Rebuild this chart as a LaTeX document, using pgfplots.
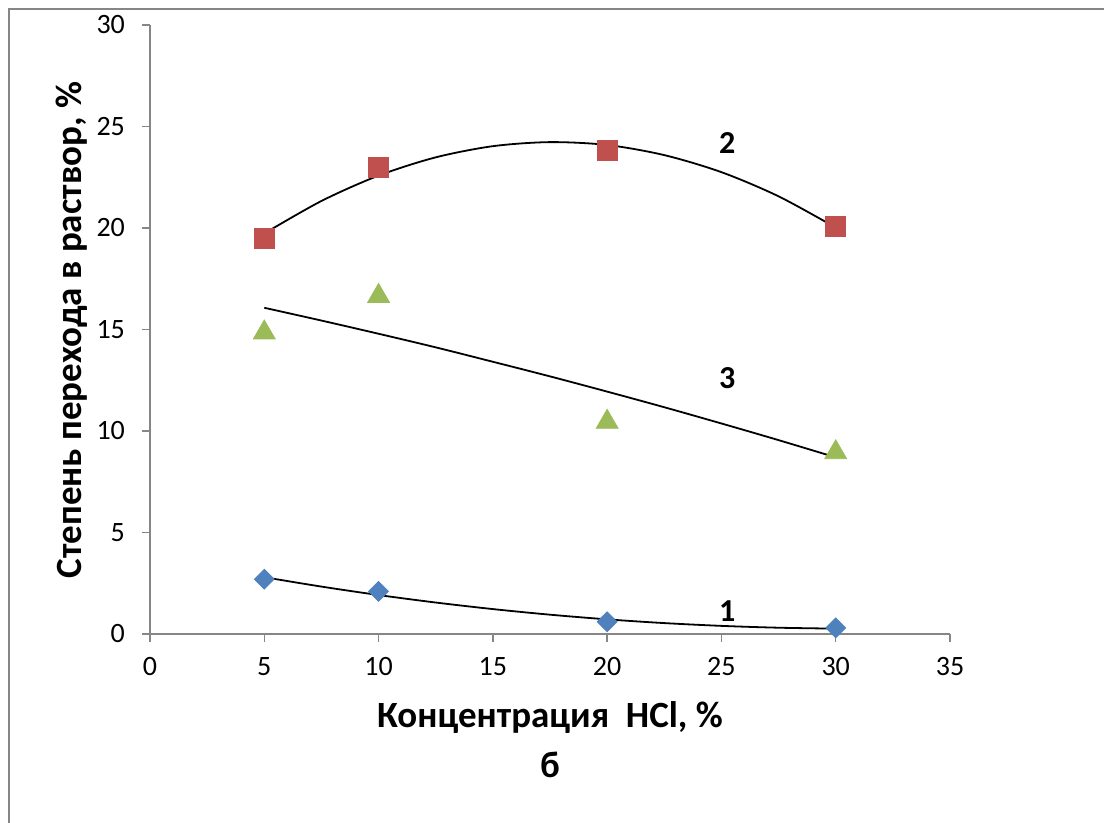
\documentclass[border=0pt]{standalone}
\usepackage{pgfplots}
\pgfplotsset{compat=1.18}
\usepackage{fontspec}
\setmainfont{Carlito}
\definecolor{axgrey}{HTML}{868686}
\definecolor{sblue}{HTML}{4F81BD}
\definecolor{sred}{HTML}{C0504D}
\definecolor{sgreen}{HTML}{9BBB59}
\begin{document}
\begin{tikzpicture}[x=0.5pt,y=0.5pt]
\useasboundingbox (-150,-189) rectangle (954,634);
\draw[axgrey, line width=0.75pt] (-141,-189) -- (-141,625) -- (954,625);
\begin{axis}[
  at={(0,0)}, anchor=south west,
  scale only axis,
  width=400pt, height=304.5pt,
  xmin=0, xmax=35, ymin=0, ymax=30,
  xtick={0,5,...,35}, ytick={0,5,...,30},
  axis lines=left,
  axis line style={axgrey, line width=0.75pt, -},
  tick style={axgrey, line width=0.75pt},
  tick align=outside,
  major tick length=4pt,
  /pgf/number format/assume math mode=true,
  tick label style={font=\fontsize{14}{16}\selectfont, black},
  xticklabel style={yshift=-4pt},
  yticklabel style={xshift=-5pt},
  clip=false,
]
\addplot[black, line width=0.9pt, smooth] coordinates {
(5,2.797) (7.5,2.335) (10,1.919) (12.5,1.550) (15,1.227) (17.5,0.951)
(20,0.721) (22.5,0.537) (25,0.400) (27.5,0.309) (30,0.264)};
\addplot[black, line width=0.9pt, smooth] coordinates {
(5,19.73) (7.5,21.33) (10,22.58) (12.5,23.48) (15,24.03) (17.5,24.23)
(20,24.09) (22.5,23.59) (25,22.75) (27.5,21.56) (30,20.02)};
\addplot[black, line width=0.9pt, smooth] coordinates {
(5,16.07) (7.5,15.44) (10,14.79) (12.5,14.12) (15,13.41) (17.5,12.69)
(20,11.94) (22.5,11.17) (25,10.37) (27.5,9.55) (30,8.70)};
\addplot[only marks, mark=square*, mark size=3.5pt, mark options={rotate=45, fill=sblue, draw=sblue}] coordinates {
(5,2.7) (10,2.1) (20,0.6) (30,0.3)};
\addplot[only marks, mark=square*, mark size=5pt, mark options={fill=sred, draw=sred}] coordinates {
(5,19.5) (10,23.0) (20,23.8) (30,20.1)};
\addplot[only marks, mark=triangle*, mark size=6.3pt, mark options={fill=sgreen, draw=sgreen, yshift=-1.575pt}] coordinates {
(5,15.0) (10,16.8) (20,10.6) (30,9.1)};
\node[font=\fontsize{16}{18}\selectfont\bfseries] at (axis cs:25.25,24.19) {2};
\node[font=\fontsize{16}{18}\selectfont\bfseries] at (axis cs:25.25,12.6) {3};
\node[font=\fontsize{16}{18}\selectfont\bfseries] at (axis cs:25.25,1.13) {1};
\end{axis}
\node[font=\fontsize{18.5}{21}\selectfont\bfseries] at (400,-84) {Концентрация\ \ HCl, \%};
\node[font=\fontsize{18.5}{21}\selectfont\bfseries] at (400,-131) {б};
\node[font=\fontsize{18.5}{21}\selectfont\bfseries, rotate=90] at (-78,304) {Степень перехода в раствор, \%};
\end{tikzpicture}
\end{document}
